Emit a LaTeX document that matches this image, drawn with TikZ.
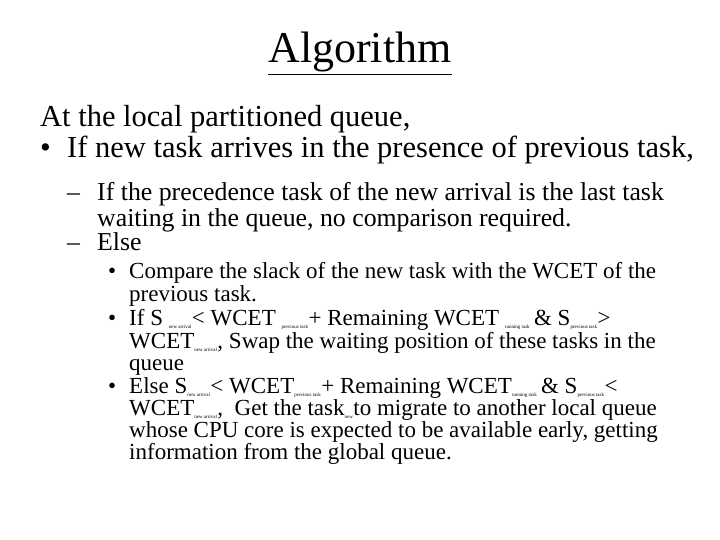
\documentclass[tikz,border=0pt]{standalone}
\usepackage{fontspec}
\setmainfont{Liberation Serif}
\usetikzlibrary{positioning}
\newcommand{\sbs}[1]{\textsubscript{\fontsize{5}{5}\selectfont #1}}
\begin{document}
\begin{tikzpicture}[x=1pt, y=-1pt]
	\tikzstyle{lvlone} = [anchor=base west, inner sep=0pt, font=\fontsize{30.5}{34}\selectfont]
	\tikzstyle{lvltwo} = [anchor=base west, inner sep=0pt, font=\fontsize{25.8}{29}\selectfont]
	\tikzstyle{lvlthree} = [anchor=base west, inner sep=0pt, font=\fontsize{23}{26}\selectfont]
	\useasboundingbox (0,0) rectangle (720,540);

	\node[anchor=base, inner sep=0pt, font=\fontsize{44}{50}\selectfont] (title) at (360,63) {\underline{Algorithm}};

	% local queue
	\node[lvlone] (l1) at (40,127) {At the local partitioned queue,};
	\node[lvlone] (b1) at (40,158) {•};
	\node[lvlone] (t1) at (67,158) {If new task arrives in the presence of previous task,};

	% second level
	\node[lvltwo] (d1) at (67,201) {–};
	\node[lvltwo] (t2a) at (97,201) {If the precedence task of the new arrival is the last task};
	\node[lvltwo] (t2b) at (97,226) {waiting in the queue, no comparison required.};
	\node[lvltwo] (d2) at (67,250) {–};
	\node[lvltwo] (t2c) at (97,250) {Else};

	% third level
	\node[lvlthree] (b3a) at (108,278) {•};
	\node[lvlthree] (t3a) at (129,278) {Compare the slack of the new task with the WCET of the};
	\node[lvlthree] (t3b) at (129,301) {previous task.};
	\node[lvlthree] (b3b) at (108,325) {•};
	\node[lvlthree] (t3c) at (129,325) {If S \sbs{new arrival}< WCET \sbs{previous task}+ Remaining WCET \sbs{running task}\,\& S\sbs{previous task}>};
	\node[lvlthree] (t3d) at (129,348) {WCET\sbs{new arrival}, Swap the waiting position of these tasks in the};
	\node[lvlthree] (t3e) at (129,370) {queue};
	\node[lvlthree] (b3c) at (108,393) {•};
	\node[lvlthree] (t3f) at (129,393) {Else S\sbs{new arrival}< WCET\sbs{previous task}+ Remaining WCET\sbs{running task}\,\& S\sbs{previous task}<};
	\node[lvlthree] (t3g) at (129,415) {WCET\sbs{new arrival},\ \ Get the task\sbs{new}to migrate to another local queue};
	\node[lvlthree] (t3h) at (129,437) {whose CPU core is expected to be available early, getting};
	\node[lvlthree] (t3i) at (129,459) {information from the global queue.};
\end{tikzpicture}
\end{document}
